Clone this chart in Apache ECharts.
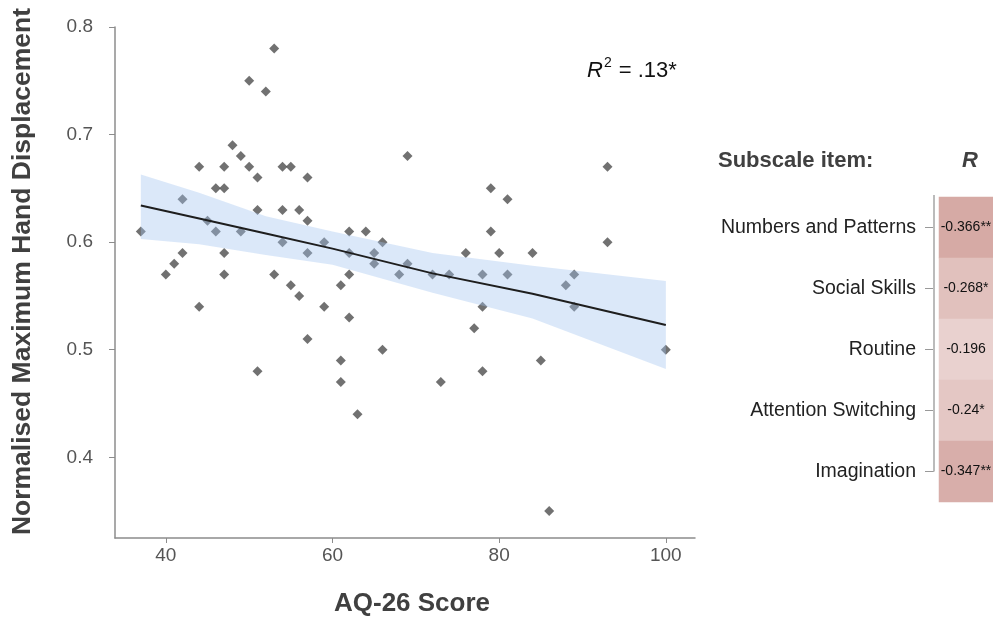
<!DOCTYPE html>
<html>
<head>
<meta charset="utf-8">
<script src="https://cdn.jsdelivr.net/npm/echarts@6.0.0/dist/echarts.min.js"></script>
<style>
  html, body { margin: 0; padding: 0; background: #fff; }
  #chart { width: 993px; height: 622px; }
</style>
</head>
<body>
<div id="chart"></div>
<script>
// AQ-26 score vs normalised maximum hand displacement
const aqScore = [53, 50, 52, 48, 49, 44, 47, 50, 54, 55, 51, 57, 46, 47, 42, 51, 54, 56, 57, 45,
  37, 46, 49, 42, 41, 40, 47, 47, 44, 53, 55, 56, 54, 57, 57, 51, 62, 64, 79, 59,
  62, 66, 65, 65, 69, 62, 68, 72, 74, 78, 76, 80, 61, 59, 62, 78, 77, 66, 61, 61,
  73, 78, 63, 69, 79, 93, 81, 84, 93, 81, 89, 88, 89, 100, 85, 86];
const displacement = [0.78, 0.75, 0.74, 0.69, 0.68, 0.67, 0.67, 0.67, 0.67, 0.67, 0.66, 0.66, 0.65, 0.65, 0.64, 0.63, 0.63, 0.63, 0.62, 0.62,
  0.61, 0.61, 0.61, 0.59, 0.58, 0.57, 0.59, 0.57, 0.54, 0.57, 0.56, 0.55, 0.60, 0.59, 0.51, 0.48, 0.61, 0.61, 0.61, 0.60,
  0.59, 0.60, 0.59, 0.58, 0.58, 0.57, 0.57, 0.57, 0.57, 0.57, 0.59, 0.59, 0.56, 0.54, 0.53, 0.54, 0.52, 0.50, 0.49, 0.47,
  0.47, 0.48, 0.44, 0.68, 0.65, 0.67, 0.64, 0.59, 0.60, 0.57, 0.57, 0.56, 0.54, 0.50, 0.49, 0.35];

// fitted line and confidence band
const fitX = [37, 44, 52, 60, 72, 84, 100];
const fitY = [0.634, 0.622, 0.608, 0.594, 0.571, 0.552, 0.523];
const bandUpper = [0.663, 0.646, 0.624, 0.610, 0.590, 0.578, 0.564];
const bandLower = [0.603, 0.598, 0.588, 0.579, 0.553, 0.529, 0.482];

const xTicks = [40, 60, 80, 100];
const yTicks = [0.4, 0.5, 0.6, 0.7, 0.8];

// subscale correlations
const subscales = ['Numbers and Patterns', 'Social Skills', 'Routine', 'Attention Switching', 'Imagination'];
const rValues = [-0.366, -0.268, -0.196, -0.24, -0.347];
const rStars = ['**', '*', '', '*', '**'];

const FONT = "'Liberation Sans', Arial, sans-serif";
const chart = echarts.init(document.getElementById('chart'));

const points = aqScore.map((x, i) => [x, displacement[i]]);
const fitLine = fitX.map((x, i) => [x, fitY[i]]);
const cells = rValues.map((v, i) => [0, i, v]);

const option = {
  animation: false,
  textStyle: { fontFamily: FONT },
  grid: [
    { left: 115, top: 27, width: 580, height: 513 },
    { left: 939, top: 197, width: 58, height: 305 }
  ],
  xAxis: [
    {
      type: 'value', gridIndex: 0, min: 33.9, max: 103.5,
      name: 'AQ-26 Score', nameLocation: 'middle', nameGap: 53,
      nameTextStyle: { fontSize: 26, fontWeight: 'bold', color: '#404040', fontFamily: FONT,
        padding: [0, 0, 0, 14] },
      axisLine: { lineStyle: { color: '#8c8c8c', width: 1.5 } },
      axisTick: { show: true, length: 5, customValues: xTicks, lineStyle: { color: '#8c8c8c' } },
      axisLabel: { customValues: xTicks, fontSize: 19, color: '#555', margin: 8, fontFamily: FONT },
      splitLine: { show: false }
    },
    {
      type: 'category', gridIndex: 1, data: ['R'], show: false
    }
  ],
  yAxis: [
    {
      type: 'value', gridIndex: 0, min: 0.325, max: 0.8,
      name: 'Normalised Maximum Hand Displacement', nameLocation: 'middle', nameGap: 79,
      nameTextStyle: { fontSize: 26.5, fontWeight: 'bold', color: '#404040', fontFamily: FONT,
        padding: [0, 0, 0, 22] },
      axisLine: { show: true, lineStyle: { color: '#8c8c8c', width: 1.5 } },
      axisTick: { show: true, length: 6, customValues: yTicks, lineStyle: { color: '#8c8c8c' } },
      axisLabel: { customValues: yTicks, fontSize: 19, color: '#555', margin: 22, fontFamily: FONT,
        formatter: v => v.toFixed(1) },
      splitLine: { show: false }
    },
    {
      type: 'category', gridIndex: 1, data: subscales, inverse: true,
      offset: 5,
      axisLine: { show: false },
      axisTick: { show: true, length: 9, alignWithLabel: true, lineStyle: { color: '#999' } },
      axisLabel: { fontSize: 19.5, color: '#222', margin: 18, fontFamily: FONT }
    }
  ],
  visualMap: {
    show: false, seriesIndex: 3, min: -0.4, max: 0,
    inRange: { color: ['#d2a29d', '#ffffff'] }
  },
  series: [
    {
      type: 'scatter', xAxisIndex: 0, yAxisIndex: 0, z: 2,
      symbol: 'diamond', symbolSize: 10,
      itemStyle: { color: '#4e4e4e' },
      data: points
    },
    {
      type: 'custom', xAxisIndex: 0, yAxisIndex: 0, z: 3, silent: true,
      data: [0],
      renderItem: (params, api) => {
        const pts = [];
        for (let i = 0; i < fitX.length; i++) pts.push(api.coord([fitX[i], bandUpper[i]]));
        for (let i = fitX.length - 1; i >= 0; i--) pts.push(api.coord([fitX[i], bandLower[i]]));
        return { type: 'polygon', shape: { points: pts }, style: { fill: 'rgba(160,195,240,0.38)' } };
      }
    },
    {
      type: 'line', xAxisIndex: 0, yAxisIndex: 0, z: 4,
      symbol: 'none', data: fitLine,
      lineStyle: { color: '#1e1e1e', width: 2 }
    },
    {
      type: 'heatmap', xAxisIndex: 1, yAxisIndex: 1,
      data: cells,
      label: {
        show: true, fontSize: 14, color: '#111', fontFamily: FONT,
        formatter: p => rValues[p.data[1]] + rStars[p.data[1]]
      },
      itemStyle: { borderWidth: 0 }
    },
    {
      // bracket line of the subscale axis: from top of first cell down to last tick
      type: 'custom', xAxisIndex: 1, yAxisIndex: 1, silent: true, clip: false,
      data: [0],
      renderItem: (params, api) => {
        const cs = params.coordSys;
        const x = cs.x - 5;
        const yEnd = api.coord([0, subscales.length - 1])[1];
        return { type: 'line', shape: { x1: x, y1: cs.y - 2, x2: x, y2: yEnd },
          style: { stroke: '#bbb', lineWidth: 2 } };
      }
    }
  ],
  graphic: [
    {
      type: 'text', left: 587, top: 56,
      style: {
        text: '{i|R}{s|2}{n| = .13*}',
        rich: {
          i: { fontSize: 22, fontStyle: 'italic', fill: '#111', fontFamily: FONT, lineHeight: 30 },
          s: { fontSize: 14, fill: '#111', fontFamily: FONT, verticalAlign: 'top', lineHeight: 30, padding: [0, 1, 10, 1] },
          n: { fontSize: 22, fill: '#111', fontFamily: FONT, lineHeight: 30 }
        }
      }
    },
    {
      type: 'text', left: 718, top: 150,
      style: { text: 'Subscale item:', fontSize: 22, fontWeight: 'bold', fill: '#404040', fontFamily: FONT }
    },
    {
      type: 'text', left: 962, top: 150,
      style: { text: 'R', fontSize: 22, fontWeight: 'bold', fontStyle: 'italic', fill: '#404040', fontFamily: FONT }
    }
  ]
};

chart.setOption(option);
</script>
</body>
</html>
